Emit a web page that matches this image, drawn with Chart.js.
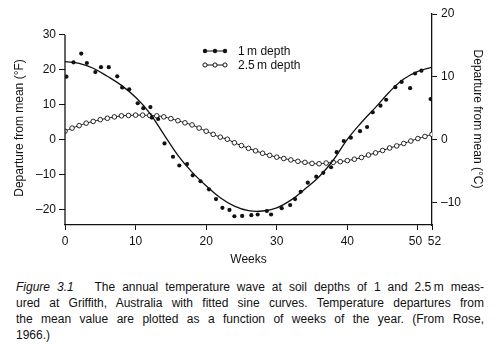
<!DOCTYPE html>
<html>
<head>
<meta charset="utf-8">
<script src="https://cdn.jsdelivr.net/npm/chart.js@4.4.1/dist/chart.umd.min.js"></script>
<style>
  body { margin: 0; background: #fff; }
  #wrap { position: relative; width: 499px; height: 354px; }
  #caption {
    position: absolute; left: 16px; top: 279px; width: 468px;
    font: 12px "Liberation Sans", Arial, sans-serif; line-height: 16px; color: #111;
  }
  #caption div { text-align: justify; text-align-last: justify; }
  #caption div.last { text-align-last: left; }
</style>
</head>
<body>
<div id="wrap">
  <canvas id="soilChart" width="499" height="270"></canvas>
  <div id="caption">
    <div><i>Figure 3.1</i>&nbsp;&nbsp; The annual temperature wave at soil depths of 1 and 2.5&#8201;m meas-</div>
    <div>ured at Griffith, Australia with fitted sine curves. Temperature departures from</div>
    <div>the mean value are plotted as a function of weeks of the year. (From Rose,</div>
    <div class="last">1966.)</div>
  </div>
</div>
<script>
// 1 m depth measurements (week, departure in °F)
const weeks1m = [0.2, 1.2, 2.3, 3.1, 4.3, 5.1, 6.2, 7.4, 8.1, 9.1, 10.3, 11.1, 12.1, 12.3, 13.2,
  14.1, 15.3, 16.2, 17.3, 18.1, 19.2, 20.4, 21.4, 22.3, 23.3, 24.0, 25.1, 26.4, 27.3, 28.6, 29.2,
  30.7, 31.9, 32.6, 33.4, 34.4, 35.6, 36.6, 37.7, 38.5, 39.5, 40.5, 41.8, 42.8, 43.6, 44.7, 45.5,
  46.8, 47.7, 48.9, 49.6, 50.5, 51.8];
const temp1m = [18.1, 22.2, 24.7, 22.0, 19.4, 20.8, 20.8, 18.2, 15.0, 14.5, 10.5, 9.1, 9.4, 6.4, 6.0,
  -1.0, -4.8, -7.3, -6.9, -10.1, -11.8, -14.1, -16.9, -19.4, -20.0, -21.8, -21.7, -21.5, -21.3, -20.3, -21.3,
  -19.5, -18.6, -16.9, -14.8, -12.2, -10.5, -9.4, -7.8, -3.5, -0.3, 0.65, 2.5, 3.7, 7.9, 9.8, 11.5,
  15.1, 16.6, 14.8, 19.0, 19.8, 11.7];

// fitted curve for 1 m, every 2 weeks
const fitWeeks = [0, 2, 4, 6, 8, 10, 12, 14, 16, 18, 20, 22, 24, 26, 28, 30, 32, 34, 36, 38, 40, 42, 44, 46, 48, 50, 52];
const fit1m = [22.4, 21.9, 20.5, 18.2, 15.6, 12.2, 7.7, 1.6, -4.4, -9.2, -13.1, -16.5, -18.9, -20.2, -20.3,
  -19.4, -17.2, -14.0, -10.5, -5.8, 0.2, 5.0, 9.3, 13.8, 17.4, 19.6, 20.8];

// 2.5 m depth, weekly
const weeks25 = [0, 1, 2, 3, 4, 5, 6, 7, 8, 9, 10, 11, 12, 13, 14, 15, 16, 17, 18, 19, 20, 21, 22, 23, 24, 25, 26,
  27, 28, 29, 30, 31, 32, 33, 34, 35, 36, 37, 38, 39, 40, 41, 42, 43, 44, 45, 46, 47, 48, 49, 50, 51, 52];
const temp25 = [2.5, 3.4, 4.1, 4.8, 5.3, 5.8, 6.2, 6.6, 6.9, 7.0, 7.1, 7.1, 7.0, 6.9, 6.6, 6.1, 5.5, 4.9, 4.3, 3.4,
  2.5, 1.6, 0.8, 0.2, -0.8, -1.6, -2.4, -3.1, -3.8, -4.4, -4.9, -5.3, -5.7, -6.1, -6.4, -6.7, -6.8, -6.6, -6.4,
  -6.2, -5.9, -5.5, -5.0, -4.3, -3.7, -3.0, -2.3, -1.7, -1.0, -0.3, 0.4, 1.0, 1.6];

const xTicks = [0, 10, 20, 30, 40, 50, 52];
const fTicks = [-20, -10, 0, 10, 20, 30];
const cTicks = [-10, 0, 10, 20];

const INK = '#111';
const FONT = '"Liberation Sans", Arial, sans-serif';

const toXY = (xs, ys) => xs.map((x, i) => ({ x: x, y: ys[i] }));
const dash = v => (v < 0 ? '\u2013' + Math.abs(v) : String(v));

// 50 and 52 sit close together, nudge them apart a little
const weekLabel = v => (v === 50 ? '50\u2009\u2009' : v === 52 ? '\u2009\u200952' : String(v));

// axis titles, legend and the shortened left axis line
const extras = {
  id: 'extras',
  afterDraw(chart) {
    const ctx = chart.ctx;
    const a = chart.chartArea;
    const yL = chart.scales.y;
    ctx.save();
    ctx.strokeStyle = INK;
    ctx.fillStyle = INK;
    ctx.lineWidth = 1.3;
    ctx.beginPath();
    ctx.moveTo(a.left, yL.getPixelForValue(30));
    ctx.lineTo(a.left, a.bottom);
    ctx.stroke();

    ctx.font = '12px ' + FONT;
    ctx.textAlign = 'center';
    ctx.textBaseline = 'middle';
    ctx.fillText('Weeks', (a.left + a.right) / 2, 260);

    ctx.save();
    ctx.translate(20, 128);
    ctx.rotate(-Math.PI / 2);
    ctx.fillText('Departure from mean (\u00B0F)', 0, 0);
    ctx.restore();

    ctx.save();
    ctx.translate(477, 119);
    ctx.rotate(Math.PI / 2);
    ctx.fillText('Departure from mean (\u00B0C)', 0, 0);
    ctx.restore();

    // legend
    ctx.lineWidth = 1;
    ctx.beginPath(); ctx.moveTo(204, 51); ctx.lineTo(226, 51); ctx.stroke();
    [205, 215, 225].forEach(x => {
      ctx.beginPath(); ctx.arc(x, 51, 2.2, 0, Math.PI * 2); ctx.fill();
    });
    ctx.beginPath(); ctx.moveTo(204, 65); ctx.lineTo(226, 65); ctx.stroke();
    [205, 215, 225].forEach(x => {
      ctx.beginPath(); ctx.arc(x, 65, 2.1, 0, Math.PI * 2);
      ctx.fillStyle = '#fff'; ctx.fill(); ctx.stroke();
    });
    ctx.fillStyle = INK;
    ctx.textAlign = 'left';
    ctx.fillText('1\u2009m depth', 238, 52);
    ctx.fillText('2.5\u2009m depth', 238, 66);
    ctx.restore();
  }
};

new Chart(document.getElementById('soilChart'), {
  type: 'scatter',
  data: {
    datasets: [
      {
        label: '1 m depth',
        data: toXY(weeks1m, temp1m),
        showLine: false,
        pointRadius: 2.1,
        pointBackgroundColor: INK,
        pointBorderWidth: 0,
        yAxisID: 'y'
      },
      {
        label: '1 m fit',
        data: toXY(fitWeeks, fit1m),
        showLine: true,
        tension: 0.4,
        pointRadius: 0,
        borderColor: INK,
        borderWidth: 1.3,
        yAxisID: 'y'
      },
      {
        label: '2.5 m depth',
        data: toXY(weeks25, temp25),
        showLine: true,
        tension: 0.4,
        pointRadius: 2.3,
        pointBackgroundColor: '#fff',
        pointBorderColor: INK,
        pointBorderWidth: 0.9,
        borderColor: INK,
        borderWidth: 1,
        yAxisID: 'y'
      }
    ]
  },
  options: {
    responsive: false,
    animation: false,
    devicePixelRatio: 1,
    layout: { padding: { top: 14, left: 0, right: 0, bottom: 0 } },
    plugins: { legend: { display: false }, tooltip: { enabled: false } },
    scales: {
      x: {
        type: 'linear',
        min: 0,
        max: 52,
        afterBuildTicks: s => { s.ticks = xTicks.map(v => ({ value: v })); },
        afterFit: s => { s.height = 45; },
        grid: { drawOnChartArea: false, drawTicks: true, tickLength: 5, color: INK, lineWidth: 1 },
        border: { color: INK, width: 1.3 },
        ticks: { color: INK, font: { family: FONT, size: 12 }, padding: 4, maxRotation: 0, autoSkip: false, callback: v => weekLabel(v) }
      },
      y: {
        position: 'left',
        min: -24.3,
        max: 36,
        afterBuildTicks: s => { s.ticks = fTicks.map(v => ({ value: v })); },
        afterFit: s => { s.width = 65; },
        grid: { drawOnChartArea: false, drawTicks: true, tickLength: 6, color: INK, lineWidth: 1 },
        border: { display: false },
        ticks: { color: INK, font: { family: FONT, size: 12 }, padding: 3, callback: v => dash(v) }
      },
      y2: {
        position: 'right',
        min: -13.5,
        max: 20,
        afterBuildTicks: s => { s.ticks = cTicks.map(v => ({ value: v })); },
        afterFit: s => { s.width = 67; },
        grid: { drawOnChartArea: false, drawTicks: true, tickLength: 5, color: INK, lineWidth: 1 },
        border: { color: INK, width: 1.3 },
        ticks: { color: INK, font: { family: FONT, size: 12 }, padding: 4, callback: v => dash(v) }
      }
    }
  },
  plugins: [extras]
});
</script>
</body>
</html>
